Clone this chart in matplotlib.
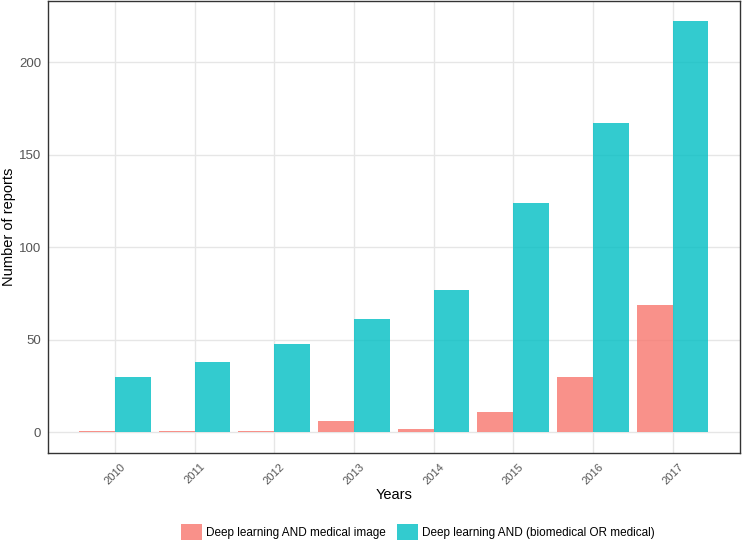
import numpy as np
import matplotlib
matplotlib.use("Agg")
import matplotlib.pyplot as plt

plt.rcParams["font.family"] = ["Liberation Sans", "DejaVu Sans"]

# counts
years = ["2010", "2011", "2012", "2013", "2014", "2015", "2016", "2017"]
medical_image = [1, 1, 1, 6, 2, 11, 30, 69]
biomedical = [30, 38, 48, 61, 77, 124, 167, 222]
labels = ["Deep learning AND medical image", "Deep learning AND (biomedical OR medical)"]

fig = plt.figure(figsize=(7.42, 5.44), dpi=100)
ax = fig.add_axes([0.0647, 0.167, 0.932, 0.831])

x = np.arange(len(years))
w = 0.45
ax.bar(x - w / 2, medical_image, width=w, color="#F8766D", alpha=0.8, label=labels[0], zorder=2)
ax.bar(x + w / 2, biomedical, width=w, color="#00BFC4", alpha=0.8, label=labels[1], zorder=2)

ax.set_xlim(-0.84, 7.84)
ax.set_ylim(-11.2, 233)
ax.set_xticks(x)
ax.set_xticklabels(years, rotation=45, fontsize=8, color="#555555")
ax.set_yticks([0, 50, 100, 150, 200])
ax.tick_params(axis="y", labelsize=9.5, labelcolor="#555555", length=0, pad=5)
ax.tick_params(axis="x", length=0, pad=6)

ax.grid(True, color="#e6e6e6", linewidth=1.0, zorder=0)
ax.set_axisbelow(True)
for s in ax.spines.values():
    s.set_color("#333333")
    s.set_linewidth(1.0)

ax.set_xlabel("Years", fontsize=10.5)
ax.set_ylabel("Number of reports", fontsize=10.5)
ax.xaxis.set_label_coords(0.5, -0.078)
ax.yaxis.set_label_coords(-0.046, 0.5)

fig.legend(loc="center", bbox_to_anchor=(0.563, 0.022), ncol=2, frameon=False,
           fontsize=8.5, handlelength=1.75, handleheight=1.7, columnspacing=0.95,
           handletextpad=0.35, borderpad=0)

fig.savefig("out.png", dpi=100)
